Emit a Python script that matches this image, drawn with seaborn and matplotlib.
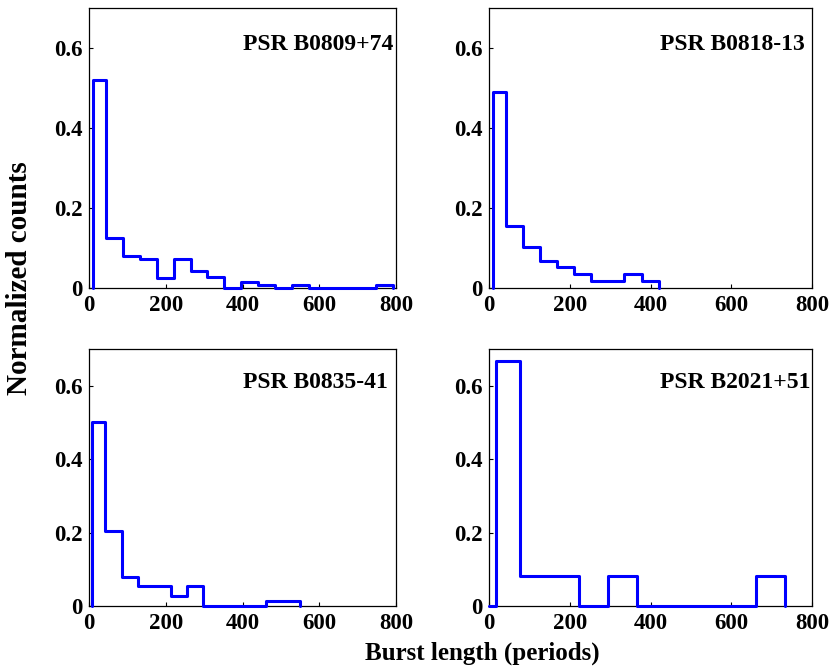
import numpy as np
import pandas as pd
import matplotlib
matplotlib.use("Agg")
import matplotlib.pyplot as plt
import seaborn as sns

# ---- data ----
names = ["PSR B0809+74", "PSR B0818-13", "PSR B0835-41", "PSR B2021+51"]

p1_edges = [9, 44, 88, 132, 176, 220, 264, 308, 352, 396, 440, 484, 528, 572, 616, 660, 704, 748, 792]
p1_heights = [0.52, 0.124, 0.081, 0.0725, 0.025, 0.073, 0.042, 0.027, 0.0, 0.016, 0.0075, 0.0,
              0.0075, 0.0, 0.0, 0.0, 0.0, 0.0075]

p2_edges = [9, 42, 84, 126, 168, 211, 253, 294, 335, 378, 421]
p2_heights = [0.491, 0.156, 0.103, 0.068, 0.052, 0.035, 0.018, 0.018, 0.035, 0.018]

p3_edges = [8, 42, 85, 128, 170, 213, 254, 297, 338, 380, 421, 462, 506, 550]
p3_heights = [0.5, 0.203, 0.08, 0.0545, 0.0545, 0.027, 0.0545, 0.0, 0.0, 0.0, 0.0, 0.0145, 0.0145]

p4_edges = [0, 17, 75, 148, 222, 295, 367, 440, 514, 587, 660, 734]
p4_heights = [0.0, 0.668, 0.082, 0.082, 0.0, 0.082, 0.0, 0.0, 0.0, 0.0, 0.082]

x_ticks = [0, 200, 400, 600, 800]
y_ticks = [0, 0.2, 0.4, 0.6]
y_ticklabels = ["0", "0.2", "0.4", "0.6"]

panels = [(p1_edges, p1_heights), (p2_edges, p2_heights),
          (p3_edges, p3_heights), (p4_edges, p4_heights)]

# ---- style ----
sns.set_theme(style="white")
plt.rcParams["font.family"] = ["Liberation Serif", "DejaVu Serif"]
plt.rcParams["font.weight"] = "bold"
plt.rcParams["text.color"] = "black"
plt.rcParams["axes.labelcolor"] = "black"
plt.rcParams["xtick.color"] = "black"
plt.rcParams["ytick.color"] = "black"

fig = plt.figure(figsize=(8.35, 6.66), dpi=100)
W, H = 835.0, 666.0
boxes = [(89.3, 8, 396, 288), (489.3, 8, 812, 288),
         (89.3, 349, 396, 606), (489.3, 349, 812, 606)]
title_x = [400, 423, 400, 423]

for i, ((edges, heights), name, box) in enumerate(zip(panels, names, boxes)):
    l, t, r, b = box
    ax = fig.add_axes([l / W, (H - b) / H, (r - l) / W, (b - t) / H])
    # pad with zero-width empty bins so the outline drops to zero at both ends
    e = [float(edges[0])] + [float(v) for v in edges] + [float(edges[-1])]
    h = [0.0] + list(heights) + [0.0]
    centers = [(e[k] + e[k + 1]) / 2 for k in range(len(h))]
    df = pd.DataFrame({"x": centers, "w": h})
    sns.histplot(data=df, x="x", weights="w", bins=e, element="step", fill=False,
                 color="#0000ff", linewidth=2.2, ax=ax, clip_on=False, zorder=3)
    ax.set_xlim(0, 800)
    ax.set_ylim(0, 0.7)
    ax.set_xticks(x_ticks)
    ax.set_yticks(y_ticks)
    ax.set_yticklabels(y_ticklabels)
    ax.set_xlabel("")
    ax.set_ylabel("")
    ax.tick_params(direction="in", length=3, width=0.8, labelsize=16.5, pad=5,
                   bottom=True, left=True, colors="black", labelcolor="black")
    for lab in ax.get_xticklabels() + ax.get_yticklabels():
        lab.set_fontweight("bold")
        lab.set_color("black")
    for sp in ax.spines.values():
        sp.set_color("black")
        sp.set_linewidth(0.9)
    ax.text(title_x[i], 0.595, name, ha="left", va="baseline", fontsize=17,
            fontweight="bold", color="black")

fig.text(20 / W, (H - 278) / H, "Normalized counts", rotation=90, ha="center", va="center",
         fontsize=21, fontweight="bold", color="black")
fig.text(482 / W, 6 / H, "Burst length (periods)", ha="center", va="baseline",
         fontsize=18, fontweight="bold", color="black")

fig.savefig("out.png", dpi=100)
